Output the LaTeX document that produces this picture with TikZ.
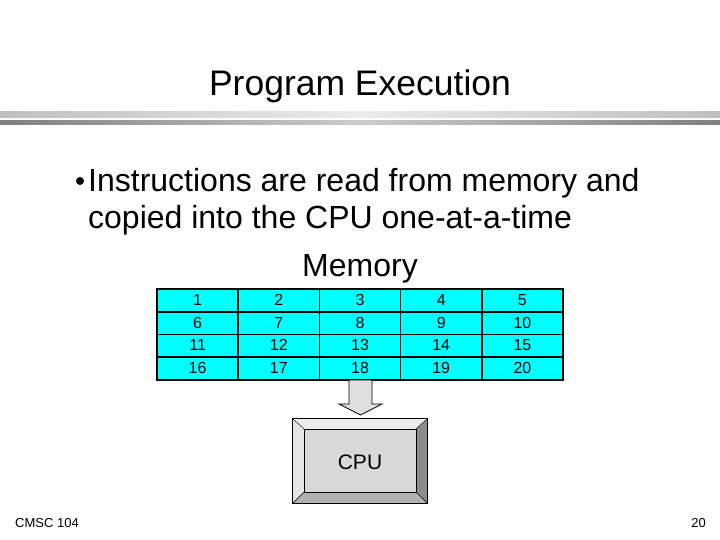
\documentclass[tikz,border=0pt]{standalone}
\usepackage{fontspec}
\setmainfont{Liberation Sans}
\definecolor{memcyan}{RGB}{0,255,255}
\begin{document}
\begin{tikzpicture}[x=1pt,y=-1pt,
  cell/.style={draw=black,line width=1.6pt,fill=memcyan,inner sep=0pt,text height=11pt,text depth=1pt,font=\fontsize{16}{19}\selectfont},
  txt/.style={inner sep=0pt,anchor=base west}]
\useasboundingbox (0,0) rectangle (720,540);
\shade[left color=gray!50,right color=gray!50,middle color=gray!15] (0,112) rectangle (720,118);
\shade[left color=gray!100,right color=gray!100,middle color=gray!40] (0,121) rectangle (720,125);
\node[inner sep=0pt,anchor=base,font=\fontsize{35.5}{40}\selectfont] (title) at (360,96) {Program Execution};
\fill (80,181) circle (4);
\node[txt,font=\fontsize{32}{36}\selectfont] (l1) at (88,192) {Instructions are read from memory and};
\node[txt,font=\fontsize{32}{36}\selectfont] (l2) at (88,229) {copied into the CPU one-at-a-time};
\node[inner sep=0pt,anchor=base,font=\fontsize{32}{36}\selectfont] (mem) at (360,276) {Memory};
\foreach \r in {0,...,3}{
 \foreach \c in {0,...,4}{
  \pgfmathtruncatemacro{\n}{\r*5+\c+1}
  \node[cell,minimum width=81.2pt,minimum height=22.75pt] (c\n) at ({157+40.6+81.2*\c},{289+11.4+22.75*\r}) {\n};
 }}
\draw[fill=gray!25,line width=0.8pt] (349,380) -- (372,380) -- (372,404) -- (382,404) -- (360.5,415) -- (339,404) -- (349,404) -- cycle;
\node[draw=black,line width=1pt,fill=gray!30,minimum width=134pt,minimum height=84pt,inner sep=0pt] (cpuo) at (360,461) {};
\fill[gray!15] (cpuo.north west) -- (cpuo.north east) -- (416,429) -- (304,429) -- cycle;
\fill[gray!20] (cpuo.north west) -- (304,429) -- (304,492) -- (cpuo.south west) -- cycle;
\fill[gray!90] (cpuo.north east) -- (416,429) -- (416,492) -- (cpuo.south east) -- cycle;
\fill[gray!60] (cpuo.south west) -- (304,492) -- (416,492) -- (cpuo.south east) -- cycle;
\draw[line width=1pt] (cpuo.north west) rectangle (cpuo.south east);
\draw (cpuo.north west) -- (304,429) (cpuo.north east) -- (416,429) (cpuo.south west) -- (304,492) (cpuo.south east) -- (416,492);
\node[draw=black,line width=1pt,fill=gray!30,minimum width=112pt,minimum height=63pt,inner sep=0pt] (cpu) at (360,460.5) {};
\node[inner sep=0pt,anchor=base,font=\fontsize{21}{24}\selectfont] (cpul) at (360,469) {CPU};
\node[txt,font=\fontsize{13}{15}\selectfont] (foot) at (15,527) {CMSC 104};
\node[inner sep=0pt,anchor=base east,font=\fontsize{13}{15}\selectfont] (pg) at (706,527) {20};
\end{tikzpicture}
\end{document}
